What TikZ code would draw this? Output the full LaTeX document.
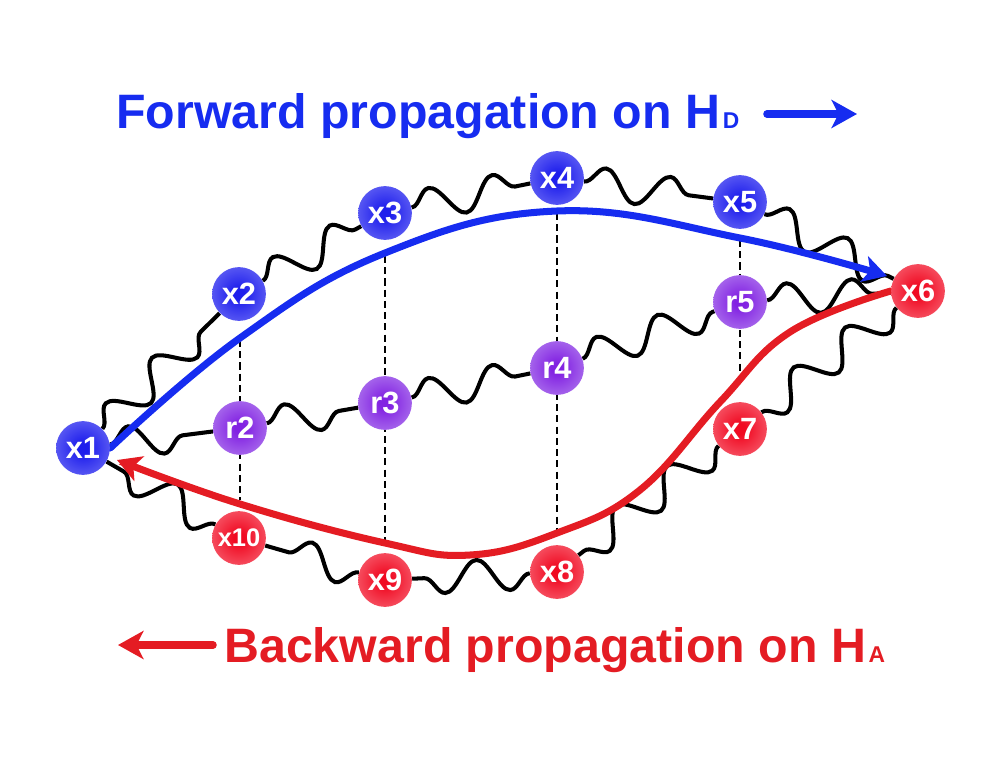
\documentclass[tikz,border=0pt]{standalone}
\usepackage{fontspec}
\setmainfont{Liberation Sans}
\usetikzlibrary{decorations.pathmorphing,arrows.meta}
\definecolor{fblue}{RGB}{22,44,240}
\definecolor{fred}{RGB}{228,28,35}
\definecolor{bin}{RGB}{30,30,236}
\definecolor{bout}{RGB}{155,155,250}
\definecolor{rin}{RGB}{240,10,34}
\definecolor{rout}{RGB}{252,155,165}
\definecolor{pin}{RGB}{130,34,226}
\definecolor{pout}{RGB}{206,178,246}
\pgfdeclareradialshading{bshade}{\pgfpointorigin}{color(0bp)=(bin); color(5bp)=(bin); color(50bp)=(bout)}
\pgfdeclareradialshading{rshade}{\pgfpointorigin}{color(0bp)=(rin); color(5bp)=(rin); color(50bp)=(rout)}
\pgfdeclareradialshading{pshade}{\pgfpointorigin}{color(0bp)=(pin); color(5bp)=(pin); color(50bp)=(pout)}
\pgfdeclarelayer{back}
\pgfsetlayers{back,main}
\begin{document}
\begin{tikzpicture}[x=0.02cm,y=-0.02cm,
  ball/.style={circle, minimum size=30.6pt, inner sep=0pt, text=white, font=\bfseries\fontsize{17.5}{17}\selectfont},
  bball/.style={ball, shading=bshade},
  rball/.style={ball, shading=rshade},
  pball/.style={ball, shading=pshade},
  wave/.style={draw=black, line width=2.3pt, decorate, decoration={snake, amplitude=9pt, segment length=37pt}},
  dline/.style={draw=black, line width=1.1pt, dash pattern=on 4pt off 2.4pt},
  curvearrow/.style={line width=4pt, line cap=round, -{Stealth[length=13.5pt,width=15pt,inset=3.5pt]}},
  smallarrow/.style={line width=4.3pt, line cap=round, -{Stealth[length=14.5pt,width=16pt,inset=4pt]}},
  titlefont/.style={anchor=base west, inner sep=0pt, font=\bfseries\fontsize{27.5}{30}\selectfont}
]
\useasboundingbox (0,0) rectangle (1000,777);

% nodes
\node[bball] (x1) at (83,448) {x1};
\node[bball] (x2) at (239,294) {x2};
\node[bball] (x3) at (385,213) {x3};
\node[bball] (x4) at (557,178) {x4};
\node[bball] (x5) at (740,202) {x5};
\node[rball] (x6) at (918,291) {x6};
\node[rball] (x7) at (740,429) {x7};
\node[rball] (x8) at (557,572) {x8};
\node[rball] (x9) at (385,580) {x9};
\node[rball, font=\bfseries\fontsize{14.5}{15}\selectfont] (x10) at (239,538) {x10};
\node[pball] (r2) at (240,428) {r2};
\node[pball] (r3) at (385,403) {r3};
\node[pball] (r4) at (557,368) {r4};
\node[pball] (r5) at (740,302) {r5};

% titles
\node[titlefont, text=fblue] (ftitle) at (116,129) {Forward propagation on H\kern1.5pt{\fontsize{13}{13}\selectfont D}};
\node[titlefont, text=fred] (btitle) at (224,662) {Backward propagation on H\kern1.5pt{\fontsize{13}{13}\selectfont A}};
\coordinate (fa1) at (767,114);
\coordinate (fa2) at (857,114);
\coordinate (ra1) at (213,645);
\coordinate (ra2) at (118,645);
\draw[smallarrow, fblue] (fa1) -- (fa2);
\draw[smallarrow, fred] (ra1) -- (ra2);

% helper coordinates
\coordinate (btip) at (887,276);
\coordinate (rtip) at (117,460);
\coordinate (d2a) at (240,340); \coordinate (d2b) at (240,500);
\coordinate (d3a) at (385,256); \coordinate (d3b) at (385,540);
\coordinate (d4a) at (557,213); \coordinate (d4b) at (557,530);
\coordinate (d5a) at (740,240); \coordinate (d5b) at (740,375);

\begin{pgfonlayer}{back}
  \draw[dline] (d2a) -- (d2b);
  \draw[dline] (d3a) -- (d3b);
  \draw[dline] (d4a) -- (d4b);
  \draw[dline] (d5a) -- (d5b);
  % waves
  \draw[wave] (x1) -- (x2);
  \draw[wave] (x2) -- (x3);
  \draw[wave] (x3) -- (x4);
  \draw[wave] (x4) -- (x5);
  \draw[wave] (x5) -- (x6);
  \draw[wave] (x6) -- (x7);
  \draw[wave] (x7) -- (x8);
  \draw[wave] (x8) -- (x9);
  \draw[wave] (x9) -- (x10);
  \draw[wave] (x10) -- (x1);
  \draw[wave] (x1) -- (r2);
  \draw[wave] (r2) -- (r3);
  \draw[wave] (r3) -- (r4);
  \draw[wave] (r4) -- (r5);
  \draw[wave] (r5) -- (x6);
  % propagation arrows
  \draw[curvearrow, fblue] plot[smooth, tension=0.7] coordinates {(x1.east) (240,338) (385,253) (557,211) (740,238) (btip)};
  \draw[curvearrow, fred] plot[smooth, tension=0.7] coordinates {(x6.west) (790,332) (720,402) (640,490) (557,533) (470,555) (385,543) (240,504) (rtip)};
\end{pgfonlayer}
\end{tikzpicture}
\end{document}
